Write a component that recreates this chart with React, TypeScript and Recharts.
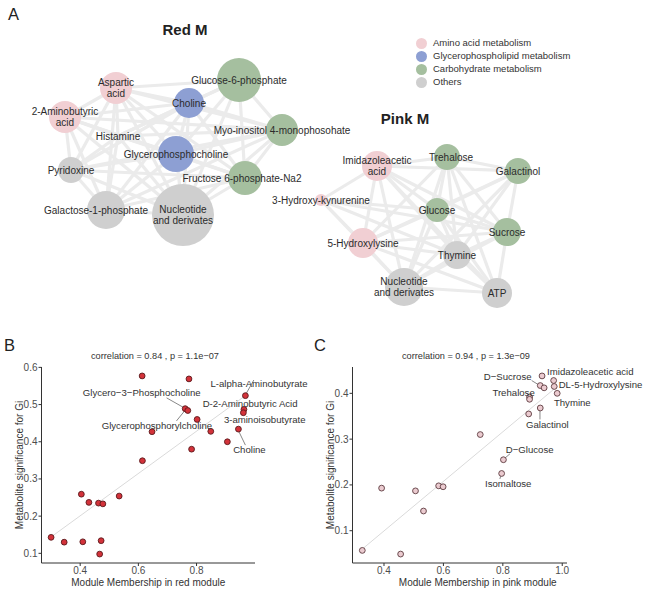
import React from 'react';
import { ScatterChart, Scatter, XAxis, YAxis } from 'recharts';

const categories = ['Amino acid metabolism', 'Glycerophospholipid metabolism', 'Carbohydrate metabolism', 'Others'];
const categoryColors = ['#f1cfd3', '#8d9fd3', '#a5bf9f', '#cfcfcf'];

// network layout: node position (layout units), node size r, category index
const redNodes = [
  { id: 'asp', label: 'Aspartic\nacid', x: 116, y: 88, r: 16, cat: 0 },
  { id: 'amb', label: '2-Aminobutyric\nacid', x: 65, y: 117, r: 16, cat: 0 },
  { id: 'cho', label: 'Choline', x: 189, y: 103, r: 15, cat: 1 },
  { id: 'g6p', label: 'Glucose-6-phosphate', x: 239, y: 80, r: 22, cat: 2 },
  { id: 'myo', label: 'Myo-inositol 4-monophosohate', x: 282, y: 130, r: 16, cat: 2 },
  { id: 'his', label: 'Histamine', x: 118, y: 136, r: 0, cat: 3 },
  { id: 'gpc', label: 'Glycerophosphocholine', x: 176, y: 154, r: 18, cat: 1 },
  { id: 'pyr', label: 'Pyridoxine', x: 71, y: 170, r: 13, cat: 3 },
  { id: 'f6p', label: 'Fructose 6-phosphate-Na2', x: 245, y: 178, r: 17, cat: 2 },
  { id: 'gal', label: 'Galactose-1-phosphate', x: 106, y: 210, r: 19, cat: 3 },
  { id: 'nucR', label: 'Nucleotide\nand derivates', x: 183, y: 215, r: 31, cat: 3 },
];

const pinkNodes = [
  { id: 'imi', label: 'Imidazoleacetic\nacid', x: 377, y: 166, r: 15, cat: 0 },
  { id: 'tre', label: 'Trehalose', x: 447, y: 157, r: 13, cat: 2 },
  { id: 'galt', label: 'Galactinol', x: 518, y: 171, r: 13, cat: 2 },
  { id: 'hk', label: '3-Hydroxy-kynurenine', x: 321, y: 200, r: 6, cat: 0 },
  { id: 'glu', label: 'Glucose', x: 437, y: 210, r: 12, cat: 2 },
  { id: 'suc', label: 'Sucrose', x: 507, y: 232, r: 14, cat: 2 },
  { id: 'hl', label: '5-Hydroxylysine', x: 363, y: 243, r: 15, cat: 0 },
  { id: 'thy', label: 'Thymine', x: 457, y: 255, r: 14, cat: 3 },
  { id: 'nucP', label: 'Nucleotide\nand derivates', x: 404, y: 287, r: 19, cat: 3 },
  { id: 'atp', label: 'ATP', x: 497, y: 293, r: 15, cat: 3 },
];

const redEdges = [
  ['asp', 'amb'], ['asp', 'cho'], ['asp', 'g6p'], ['asp', 'myo'], ['asp', 'his'], ['asp', 'gpc'],
  ['asp', 'pyr'], ['asp', 'f6p'], ['asp', 'gal'], ['asp', 'nucR'],
  ['amb', 'cho'], ['amb', 'his'], ['amb', 'gpc'], ['amb', 'pyr'], ['amb', 'f6p'], ['amb', 'gal'],
  ['amb', 'nucR'], ['amb', 'myo'],
  ['cho', 'g6p'], ['cho', 'myo'], ['cho', 'his'], ['cho', 'gpc'], ['cho', 'pyr'], ['cho', 'f6p'],
  ['cho', 'gal'], ['cho', 'nucR'],
  ['g6p', 'myo'], ['g6p', 'gpc'], ['g6p', 'f6p'], ['g6p', 'nucR'], ['g6p', 'his'],
  ['myo', 'gpc'], ['myo', 'f6p'], ['myo', 'nucR'], ['myo', 'his'], ['myo', 'gal'], ['myo', 'pyr'],
  ['his', 'gpc'], ['his', 'pyr'], ['his', 'gal'], ['his', 'nucR'], ['his', 'f6p'],
  ['gpc', 'pyr'], ['gpc', 'f6p'], ['gpc', 'gal'], ['gpc', 'nucR'],
  ['pyr', 'gal'], ['pyr', 'nucR'], ['pyr', 'f6p'],
  ['f6p', 'nucR'], ['f6p', 'gal'], ['gal', 'nucR'],
];

const pinkEdges = [
  ['imi', 'tre'], ['imi', 'galt'], ['imi', 'hk'], ['imi', 'glu'], ['imi', 'suc'], ['imi', 'hl'],
  ['imi', 'thy'], ['imi', 'nucP'], ['imi', 'atp'],
  ['tre', 'galt'], ['tre', 'glu'], ['tre', 'suc'], ['tre', 'hl'], ['tre', 'thy'], ['tre', 'nucP'], ['tre', 'atp'],
  ['galt', 'glu'], ['galt', 'suc'], ['galt', 'hl'], ['galt', 'thy'], ['galt', 'nucP'],
  ['hk', 'glu'], ['hk', 'hl'], ['hk', 'nucP'], ['hk', 'suc'], ['hk', 'thy'],
  ['glu', 'suc'], ['glu', 'hl'], ['glu', 'thy'], ['glu', 'nucP'], ['glu', 'atp'],
  ['suc', 'hl'], ['suc', 'thy'], ['suc', 'nucP'], ['suc', 'atp'],
  ['hl', 'thy'], ['hl', 'nucP'], ['hl', 'atp'],
  ['thy', 'nucP'], ['thy', 'atp'], ['nucP', 'atp'],
];

// red module: module membership vs metabolite significance
const redMM = [0.613, 0.774, 0.968, 0.761, 0.770, 0.963, 0.961, 0.802, 0.647, 0.849, 0.944, 0.906,
  0.783, 0.614, 0.404, 0.430, 0.463, 0.478, 0.534, 0.300, 0.345, 0.409, 0.472, 0.467];
const redGS = [0.577, 0.569, 0.524, 0.489, 0.484, 0.487, 0.478, 0.460, 0.427, 0.428, 0.434, 0.400,
  0.380, 0.349, 0.259, 0.237, 0.235, 0.233, 0.254, 0.143, 0.130, 0.131, 0.134, 0.098];
const redFit = [{ x: 0.300, y: 0.144 }, { x: 0.968, y: 0.524 }];
const redLabels = [
  { text: 'L-alpha-Aminobutyrate', x: 0.848, y: 0.557 },
  { text: 'Glycero\u22123\u2212Phosphocholine', x: 0.409, y: 0.533 },
  { text: 'D-2-Aminobutyric Acid', x: 0.821, y: 0.503 },
  { text: '3-aminoisobutyrate', x: 0.894, y: 0.460 },
  { text: 'Glycerophosphorylcholine', x: 0.474, y: 0.445 },
  { text: 'Choline', x: 0.926, y: 0.378 },
];
const redLeaders = [
  [{ x: 0.971, y: 0.530 }, { x: 0.997, y: 0.566 }],
  [{ x: 0.697, y: 0.518 }, { x: 0.758, y: 0.491 }],
  [{ x: 0.731, y: 0.456 }, { x: 0.761, y: 0.485 }],
  [{ x: 0.944, y: 0.430 }, { x: 0.968, y: 0.391 }],
];

// pink module
const pinkMM = [0.932, 0.971, 0.926, 0.939, 0.973, 0.983, 0.890, 0.890, 0.926, 0.887, 0.724, 0.802,
  0.796, 0.392, 0.506, 0.584, 0.599, 0.533, 0.327, 0.456];
const pinkGS = [0.438, 0.428, 0.417, 0.412, 0.415, 0.400, 0.392, 0.387, 0.368, 0.355, 0.310, 0.255,
  0.225, 0.193, 0.187, 0.198, 0.196, 0.143, 0.057, 0.049];
const pinkFit = [{ x: 0.327, y: 0.060 }, { x: 0.983, y: 0.415 }];
const pinkLabels = [
  { text: 'Imidazoleacetic acid', x: 0.949, y: 0.447 },
  { text: 'D\u2212Sucrose', x: 0.736, y: 0.436 },
  { text: 'DL-5-Hydroxylysine', x: 0.988, y: 0.419 },
  { text: 'Trehalose', x: 0.765, y: 0.401 },
  { text: 'Thymine', x: 0.972, y: 0.381 },
  { text: 'Galactinol', x: 0.878, y: 0.333 },
  { text: 'D\u2212Glucose', x: 0.810, y: 0.278 },
  { text: 'Isomaltose', x: 0.740, y: 0.204 },
];
const pinkLeaders = [
  [{ x: 0.897, y: 0.428 }, { x: 0.922, y: 0.418 }],
  [{ x: 0.925, y: 0.362 }, { x: 0.925, y: 0.343 }],
  [{ x: 0.808, y: 0.259 }, { x: 0.824, y: 0.268 }],
  [{ x: 0.794, y: 0.221 }, { x: 0.790, y: 0.213 }],
];

const labelShift: Record<string, number> = { gal: -10, f6p: -3, tre: 4 };

const FONT = '"Liberation Sans", Arial, Helvetica, sans-serif';
const none = () => <g />;

function NodeCircle(props: any) {
  const { cx, cy, payload } = props;
  if (!payload.r) return <g />;
  return <circle cx={cx} cy={cy} r={payload.r} fill={categoryColors[payload.cat]} />;
}

function NodeLabel(props: any) {
  const { cx, cy, payload } = props;
  const lines: string[] = payload.label.split('\n');
  const dx = labelShift[payload.id] || 0;
  return (
    <g>
      {lines.map((t, i) => (
        <text
          key={i}
          x={cx + dx}
          y={cy + (i - (lines.length - 1) / 2) * 11.5}
          textAnchor="middle"
          dominantBaseline="central"
          fontSize={10}
          fill="#2b2b2b"
        >
          {t}
        </text>
      ))}
    </g>
  );
}

function Network() {
  const all = [...redNodes, ...pinkNodes];
  const byId: Record<string, any> = {};
  all.forEach((n) => (byId[n.id] = n));
  const edges = [...redEdges, ...pinkEdges];
  return (
    <ScatterChart width={650} height={340} margin={{ top: 0, right: 0, bottom: 0, left: 0 }}>
      <XAxis type="number" dataKey="x" domain={[0, 650]} hide />
      <YAxis type="number" dataKey="y" domain={[0, 340]} reversed hide />
      {edges.map(([a, b], i) => (
        <Scatter
          key={`e${i}`}
          data={[{ x: byId[a].x, y: byId[a].y }, { x: byId[b].x, y: byId[b].y }]}
          line={{ stroke: '#ebebeb', strokeWidth: 3.2 }}
          shape={none}
          isAnimationActive={false}
        />
      ))}
      <Scatter data={all} shape={NodeCircle} isAnimationActive={false} />
      <Scatter data={all} shape={NodeLabel} isAnimationActive={false} />
    </ScatterChart>
  );
}

interface PlotProps {
  mm: number[];
  gs: number[];
  fit: { x: number; y: number }[];
  labels: { text: string; x: number; y: number }[];
  leaders: { x: number; y: number }[][];
  xDomain: [number, number];
  yDomain: [number, number];
  xTicks: number[];
  yTicks: number[];
  fill: string;
  stroke: string;
  xLabel: string;
  xLabelDx: number;
  width: number;
  marginRight: number;
}

function ModulePlot(p: PlotProps) {
  const pts = p.mm.map((x, i) => ({ x, y: p.gs[i] }));
  const tickStyle = { fontSize: 10, fill: '#4d4d4d' };
  return (
    <ScatterChart width={p.width} height={256} margin={{ top: 27, right: p.marginRight, bottom: 3, left: 0 }}>
      <XAxis
        type="number"
        dataKey="x"
        domain={p.xDomain}
        ticks={p.xTicks}
        tickFormatter={(v) => v.toFixed(1)}
        tick={tickStyle}
        tickSize={3}
        tickMargin={1}
        height={30}
        stroke="#333"
        label={{ value: p.xLabel, position: 'insideBottom', offset: 7, dx: p.xLabelDx, fontSize: 10, fill: '#333' }}
      />
      <YAxis
        type="number"
        dataKey="y"
        domain={p.yDomain}
        ticks={p.yTicks}
        tickFormatter={(v) => v.toFixed(1)}
        tick={tickStyle}
        tickSize={3}
        tickMargin={1}
        width={41.5}
        stroke="#333"
        label={{
          value: 'Metabolite significance for Gi',
          angle: -90,
          position: 'insideLeft',
          offset: 19,
          fontSize: 10,
          fill: '#333',
          style: { textAnchor: 'middle' },
        }}
      />
      <Scatter data={p.fit} line={{ stroke: '#dadada', strokeWidth: 1 }} shape={none} isAnimationActive={false} />
      {p.leaders.map((seg, i) => (
        <Scatter
          key={`l${i}`}
          data={seg}
          line={{ stroke: '#555', strokeWidth: 0.7 }}
          shape={none}
          isAnimationActive={false}
        />
      ))}
      <Scatter
        data={pts}
        isAnimationActive={false}
        shape={(s: any) => (
          <circle cx={s.cx} cy={s.cy} r={2.9} fill={p.fill} stroke={p.stroke} strokeWidth={0.9} />
        )}
      />
      <Scatter
        data={p.labels}
        isAnimationActive={false}
        shape={(s: any) => (
          <text x={s.cx} y={s.cy} dominantBaseline="central" fontSize={9.6} fill="#333">
            {s.payload.text}
          </text>
        )}
      />
    </ScatterChart>
  );
}

const abs = (left: number, top: number, extra: React.CSSProperties = {}): React.CSSProperties => ({
  position: 'absolute',
  left,
  top,
  lineHeight: 1,
  whiteSpace: 'nowrap',
  ...extra,
});

export default function App() {
  return (
    <div style={{ position: 'absolute', left: 0, top: 0, width: 650, height: 596, background: '#fff', fontFamily: FONT, color: '#222' }}>
      <div style={abs(0, 0)}>
        <Network />
      </div>
      <div style={abs(8, 6, { fontSize: 16.5 })}>A</div>
      <div style={abs(185, 29, { fontSize: 15, fontWeight: 'bold', transform: 'translate(-50%,-50%)' })}>Red M</div>
      <div style={abs(405, 118, { fontSize: 15, fontWeight: 'bold', transform: 'translate(-50%,-50%)' })}>Pink M</div>
      {categories.map((c, i) => (
        <div key={c} style={abs(416, 37.5 + i * 13, { fontSize: 9.5, color: '#333', display: 'flex', alignItems: 'center', height: 11 })}>
          <span style={{ display: 'inline-block', width: 11, height: 11, borderRadius: '50%', background: categoryColors[i], marginRight: 6 }} />
          {c}
        </div>
      ))}

      <div style={abs(4, 337, { fontSize: 16.5 })}>B</div>
      <div style={abs(314, 337, { fontSize: 16.5 })}>C</div>
      <div style={abs(155, 357, { fontSize: 9.2, color: '#333', transform: 'translate(-50%,-50%)' })}>
        correlation = 0.84 , p = 1.1e{'\u2212'}07
      </div>
      <div style={abs(466, 357, { fontSize: 9.2, color: '#333', transform: 'translate(-50%,-50%)' })}>
        correlation = 0.94 , p = 1.3e{'\u2212'}09
      </div>

      <div style={abs(0, 340)}>
        <ModulePlot
          mm={redMM}
          gs={redGS}
          fit={redFit}
          labels={redLabels}
          leaders={redLeaders}
          xDomain={[0.267, 1.001]}
          yDomain={[0.074, 0.601]}
          xTicks={[0.4, 0.6, 0.8]}
          yTicks={[0.1, 0.2, 0.3, 0.4, 0.5, 0.6]}
          fill="#d3323a"
          stroke="#5a1a1c"
          xLabel="Module Membership in red module"
          xLabelDx={0}
          width={320}
          marginRight={65}
        />
      </div>
      <div style={abs(311, 340)}>
        <ModulePlot
          mm={pinkMM}
          gs={pinkGS}
          fit={pinkFit}
          labels={pinkLabels}
          leaders={pinkLeaders}
          xDomain={[0.294, 1.016]}
          yDomain={[0.0295, 0.4575]}
          xTicks={[0.4, 0.6, 0.8, 1.0]}
          yTicks={[0.1, 0.2, 0.3, 0.4]}
          fill="#ebcbd0"
          stroke="#5c3b40"
          xLabel="Module Membership in pink module"
          xLabelDx={18}
          width={339}
          marginRight={83}
        />
      </div>
    </div>
  );
}
